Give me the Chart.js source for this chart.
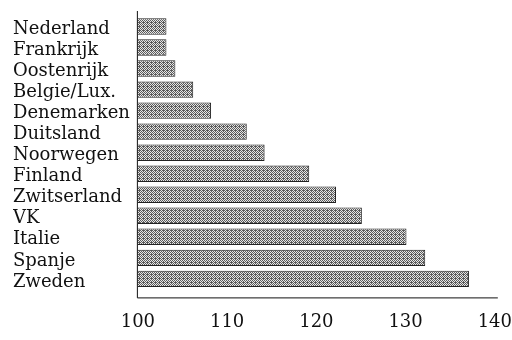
<!DOCTYPE html>
<html lang="nl">
<head>
<meta charset="utf-8" />
<script src="https://cdn.jsdelivr.net/npm/chart.js@4.4.1/dist/chart.umd.min.js"></script>
<style>
  html, body { margin: 0; padding: 0; background: #fff; overflow: hidden; }
  canvas { display: block; }
</style>
</head>
<body>
<canvas id="grafiek" width="512" height="340"></canvas>
<script>
const landen = ["Nederland", "Frankrijk", "Oostenrijk", "Belgie/Lux.", "Denemarken", "Duitsland",
  "Noorwegen", "Finland", "Zwitserland", "VK", "Italie", "Spanje", "Zweden"];
const waarden = [103.2, 103.2, 104.2, 106.2, 108.2, 112.2, 114.2, 119.2, 122.2, 125.1, 130.1, 132.2, 137.1];
const asTicks = [100, 110, 120, 130, 140];

// grijs stippelpatroon voor de balken
function stippel() {
  const c = document.createElement("canvas");
  c.width = 4; c.height = 4;
  const g = c.getContext("2d");
  g.fillStyle = "#e6e6e6";
  g.fillRect(0, 0, 4, 4);
  g.fillStyle = "#5a5a5a";
  const punten = [[0,0],[2,0],[1,1],[3,1],[0,2],[2,2],[3,3],[1,3],[3,2]];
  punten.forEach(p => g.fillRect(p[0], p[1], 1, 1));
  return g.createPattern(c, "repeat");
}

const assen = {
  id: "assen",
  afterDatasetsDraw(chart) {
    const { ctx, chartArea } = chart;
    ctx.save();
    ctx.strokeStyle = "#111";
    ctx.lineWidth = 1;
    ctx.beginPath();
    ctx.moveTo(chartArea.left - 0.5, chartArea.top - 5);
    ctx.lineTo(chartArea.left - 0.5, chartArea.bottom + 8.5);
    ctx.lineTo(chartArea.right + 3, chartArea.bottom + 8.5);
    ctx.stroke();
    ctx.restore();
  }
};

const lettertype = { family: "'DejaVu Serif', serif", size: 18 };

new Chart(document.getElementById("grafiek"), {
  type: "bar",
  data: {
    labels: landen,
    datasets: [{
      data: waarden,
      backgroundColor: stippel(),
      borderColor: "#222",
      borderWidth: 1,
      borderSkipped: false,
      barPercentage: 0.78,
      categoryPercentage: 1
    }]
  },
  options: {
    indexAxis: "y",
    responsive: false,
    animation: false,
    layout: { padding: { left: 13, top: 16, bottom: 7, right: 0 } },
    plugins: { legend: { display: false }, tooltip: { enabled: false } },
    scales: {
      x: {
        min: 100, max: 140,
        grid: { display: false, tickLength: 22 },
        border: { display: false },
        afterBuildTicks: (as) => { as.ticks = asTicks.map(v => ({ value: v })); },
        ticks: { color: "#111", font: lettertype, padding: 0, maxRotation: 0, autoSkip: false }
      },
      y: {
        grid: { display: false, tickLength: 8 },
        border: { display: false },
        ticks: { color: "#111", font: lettertype, crossAlign: "far", padding: 0, labelOffset: 3, autoSkip: false }
      }
    }
  },
  plugins: [assen]
});
</script>
</body>
</html>
